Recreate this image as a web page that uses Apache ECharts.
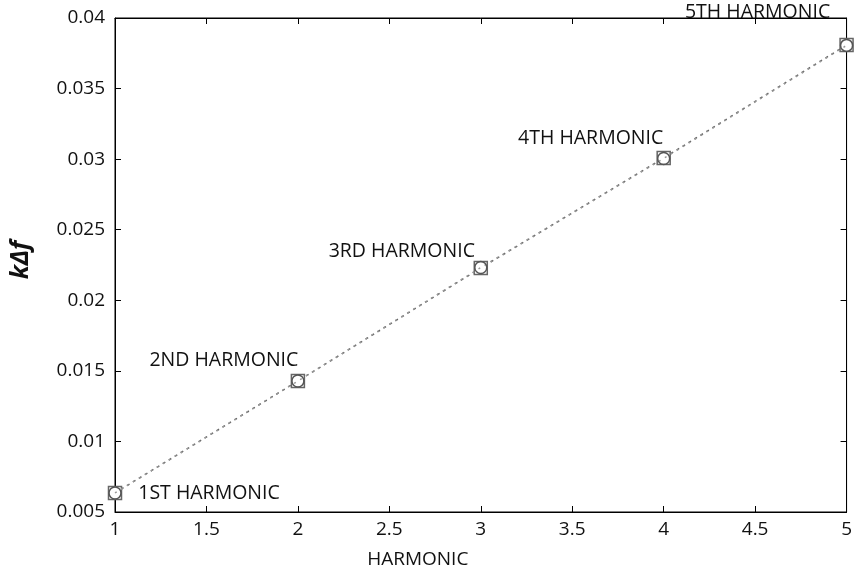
<!DOCTYPE html>
<html>
<head>
<meta charset="utf-8">
<script src="https://cdn.jsdelivr.net/npm/echarts@6/dist/echarts.min.js"></script>
<style>html,body{margin:0;padding:0;background:#fff;}#c{width:855px;height:575px;}</style>
</head>
<body>
<div id="c"></div>
<script>
var harmonics = [1, 2, 3, 4, 5];
var kdfSquare = [0.00635, 0.01428, 0.02229, 0.03008, 0.03809];
var kdfCircle = [0.00635, 0.01428, 0.02232, 0.03005, 0.03806];
var pointLabels = ['1ST HARMONIC', '2ND HARMONIC', '3RD HARMONIC', '4TH HARMONIC', '5TH HARMONIC'];
var xTicks = [1, 1.5, 2, 2.5, 3, 3.5, 4, 4.5, 5];
var yTicks = [0.005, 0.01, 0.015, 0.02, 0.025, 0.03, 0.035, 0.04];

var labelOffsets = [[94, 0], [-74, -21], [-79, -17], [-73, -20], [-89, -33]];
var font = 'Open Sans';

var chart = echarts.init(document.getElementById('c'), null, {renderer: 'canvas'});
var sqData = harmonics.map(function (h, i) {
  return {
    value: [h, kdfSquare[i]],
    label: {show: true, formatter: pointLabels[i], position: 'inside', offset: labelOffsets[i],
      color: '#111', fontSize: 19.5, fontFamily: font}
  };
});
var ciData = harmonics.map(function (h, i) { return [h, kdfCircle[i]]; });

function fmtY(v) { return String(+v.toFixed(3)); }

chart.setOption({
  animation: false,
  grid: {left: 113, right: 6, top: 18, bottom: 63, show: true, borderColor: '#000', borderWidth: 1},
  xAxis: [{
    type: 'value', min: 1, max: 5, interval: 0.5,
    name: 'HARMONIC', nameLocation: 'middle', nameGap: 38,
    nameTextStyle: {color: '#111', fontSize: 19, fontFamily: font, padding: [0, 126, 0, 0]},
    axisLine: {lineStyle: {color: '#000'}},
    axisTick: {inside: true, length: 6, lineStyle: {color: '#000'}},
    axisLabel: {color: '#111', fontSize: 19, fontFamily: font, margin: 8},
    splitLine: {show: false}
  }, {
    type: 'value', min: 1, max: 5, interval: 0.5, position: 'top',
    axisLine: {lineStyle: {color: '#000'}},
    axisTick: {inside: true, length: 6, lineStyle: {color: '#000'}},
    axisLabel: {show: false}, splitLine: {show: false}
  }],
  yAxis: [{
    type: 'value', min: 0.005, max: 0.04, interval: 0.005,
    name: 'k\u0394f', nameLocation: 'middle', nameGap: 82, nameRotate: 90,
    nameTextStyle: {color: '#111', fontSize: 25, fontWeight: 'bold', fontStyle: 'italic', fontFamily: font, padding: [0, 0, 0, 10]},
    axisLine: {lineStyle: {color: '#000'}},
    axisTick: {inside: true, length: 6, lineStyle: {color: '#000'}},
    axisLabel: {color: '#111', fontSize: 19, fontFamily: font, margin: 10, formatter: fmtY},
    splitLine: {show: false}
  }, {
    type: 'value', min: 0.005, max: 0.04, interval: 0.005, position: 'right',
    axisLine: {lineStyle: {color: '#000'}},
    axisTick: {inside: true, length: 6, lineStyle: {color: '#000'}},
    axisLabel: {show: false}, splitLine: {show: false}
  }],
  series: [{
    type: 'line', data: sqData, symbol: 'rect', symbolSize: 13,
    itemStyle: {color: '#fff', borderColor: '#666', borderWidth: 1.5},
    lineStyle: {color: '#666', width: 1.5, type: [3, 4]},
    z: 3
  }, {
    type: 'line', data: ciData, symbol: 'circle', symbolSize: 12,
    itemStyle: {color: 'rgba(255,255,255,0)', borderColor: '#555', borderWidth: 1.5},
    lineStyle: {color: '#999', width: 1.5, type: [2, 5]},
    z: 4
  }]
});
</script>
</body>
</html>
